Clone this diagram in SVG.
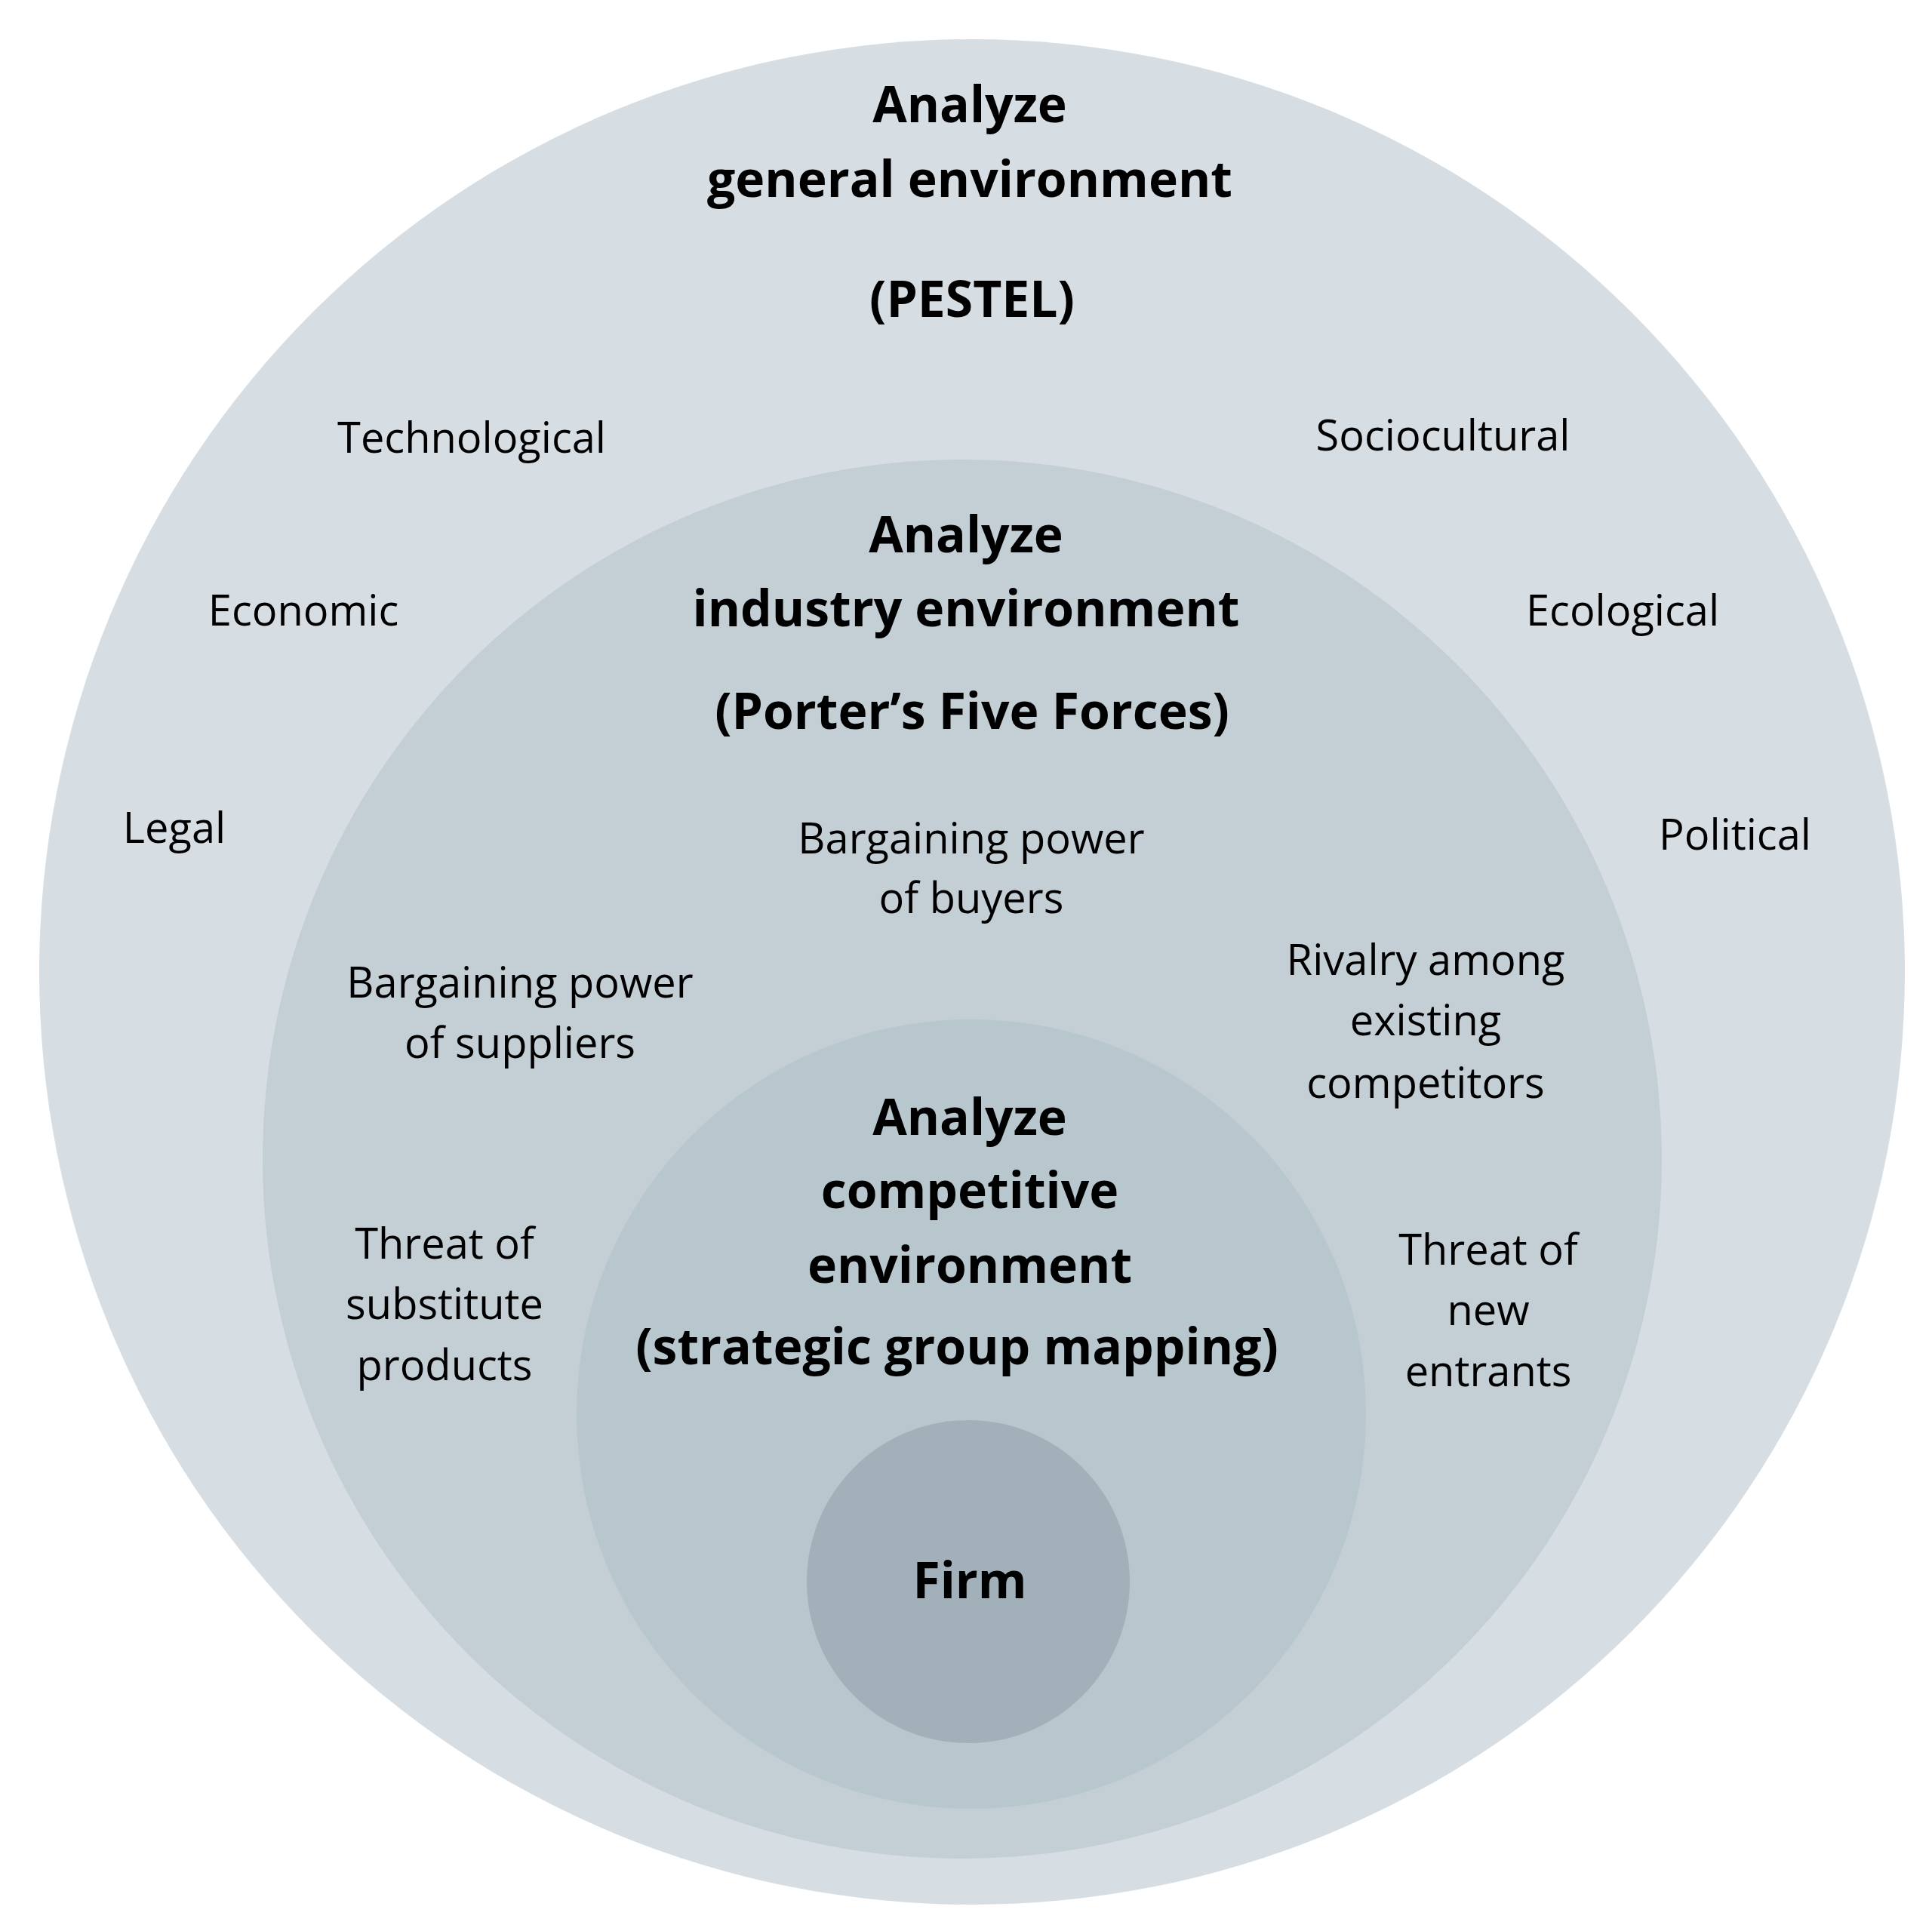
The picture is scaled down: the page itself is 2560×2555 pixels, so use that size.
<svg xmlns="http://www.w3.org/2000/svg" width="2560" height="2555" viewBox="0 0 2560 2555">
<style>
text{font-family:"Open Sans","Noto Sans",sans-serif;text-anchor:middle;fill:#000}
.b{font-weight:bold;font-size:66px}
.r{font-size:56px}
</style>
<rect width="2560" height="2555" fill="#fff"/>
<g id="general">
<circle cx="1288" cy="1288" r="1236" fill="#d6dde3"/>
<text class="b" x="1285" y="162">Analyze</text>
<text class="b" x="1285" y="261">general environment</text>
<text class="b" x="1288" y="420">(PESTEL)</text>
<text class="r" x="625" y="600">Technological</text>
<text class="r" x="1912" y="597">Sociocultural</text>
<text class="r" x="402" y="829">Economic</text>
<text class="r" x="2150" y="829">Ecological</text>
<text class="r" x="231" y="1117">Legal</text>
<text class="r" x="2299" y="1126">Political</text>
</g>
<g id="industry">
<circle cx="1275" cy="1536" r="927" fill="#c3ced5"/>
<text class="b" x="1280" y="732">Analyze</text>
<text class="b" x="1280" y="830">industry environment</text>
<text class="b" x="1288" y="966">(Porter’s Five Forces)</text>
<text class="r" x="1287" y="1131">Bargaining power</text>
<text class="r" x="1287" y="1210">of buyers</text>
<text class="r" x="689" y="1322">Bargaining power</text>
<text class="r" x="689" y="1402">of suppliers</text>
<text class="r" x="1889" y="1292">Rivalry among</text>
<text class="r" x="1889" y="1372">existing</text>
<text class="r" x="1889" y="1455">competitors</text>
<text class="r" x="589" y="1668">Threat of</text>
<text class="r" x="589" y="1748">substitute</text>
<text class="r" x="589" y="1829">products</text>
<text class="r" x="1972" y="1676">Threat of</text>
<text class="r" x="1972" y="1756">new</text>
<text class="r" x="1972" y="1837">entrants</text>
</g>
<g id="competitive">
<circle cx="1287" cy="1874" r="523" fill="#b8c7ce"/>
<text class="b" x="1285" y="1504">Analyze</text>
<text class="b" x="1285" y="1601">competitive</text>
<text class="b" x="1285" y="1700">environment</text>
<text class="b" x="1268" y="1808">(strategic group mapping)</text>
</g>
<g id="firm">
<circle cx="1283" cy="2096" r="214" fill="#a2b1b9"/>
<text class="b" x="1285" y="2118">Firm</text>
</g>
<g id="connectors"/>
</svg>
